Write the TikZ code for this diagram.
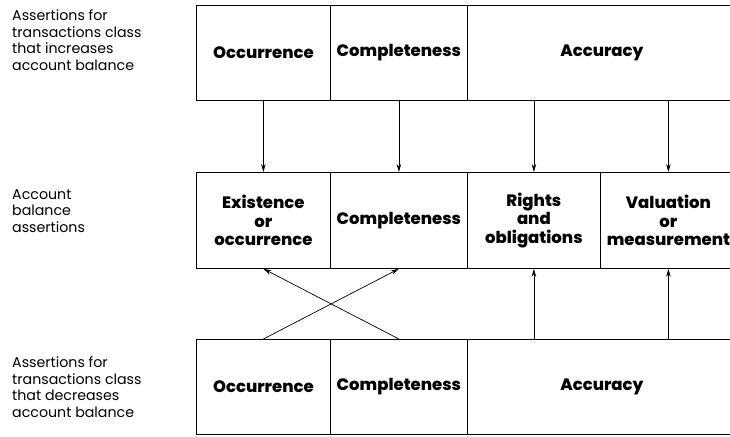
\documentclass[tikz,border=0pt]{standalone}
\usepackage{fontspec}
\setmainfont{Poppins}[BoldFont={Poppins ExtraBold}]
\usetikzlibrary{arrows.meta}
\begin{document}
\begin{tikzpicture}[x=1pt,y=-1pt,
  cell/.style={draw, line width=0.8pt, inner sep=0pt, anchor=north west,
    font=\bfseries\fontsize{16.5}{18.5}\selectfont, align=center},
  sidelabel/.style={anchor=west, inner sep=0pt, align=left,
    font=\fontsize{14.2}{16.7}\selectfont},
  link/.style={line width=0.7pt, -{Stealth[length=8pt,width=4.5pt]}}]
\useasboundingbox (0,0) rectangle (730,436);
\clip (0,0) rectangle (730,436);
% increasing transactions
\node[cell, minimum width=134pt, minimum height=95pt] (t1) at (196,5) {Occurrence};
\node[cell, minimum width=137pt, minimum height=95pt] (t2) at (330,5) {Completeness};
\node[cell, minimum width=269pt, minimum height=95pt] (t3) at (467,5) {Accuracy};
% account balance
\node[cell, minimum width=134pt, minimum height=96pt] (m1) at (196,172) {Existence\\or\\occurrence};
\node[cell, minimum width=137pt, minimum height=96pt] (m2) at (330,172) {Completeness};
\node[cell, minimum width=133pt, minimum height=96pt] (m3) at (467,172) {Rights\\and\\obligations};
\node[cell, minimum width=136pt, minimum height=96pt] (m4) at (600,172) {Valuation\\or\\measurement};
% decreasing transactions
\node[cell, minimum width=134pt, minimum height=95pt] (b1) at (196,339) {Occurrence};
\node[cell, minimum width=137pt, minimum height=95pt] (b2) at (330,339) {Completeness};
\node[cell, minimum width=269pt, minimum height=95pt] (b3) at (467,339) {Accuracy};
% row captions
\node[sidelabel] (lt) at (12,40) {Assertions for\\transactions class\\that increases\\account balance};
\node[sidelabel] (lm) at (12,211) {Account\\balance\\assertions};
\node[sidelabel] (lb) at (12,387) {Assertions for\\transactions class\\that decreases\\account balance};
% connectors
\draw[link] (t1.south) -- (m1.north);
\draw[link] (t2.south) -- (m2.north);
\draw[link] (m3.north |- t3.south) -- (m3.north);
\draw[link] (m4.north |- t3.south) -- (m4.north);
\draw[link] (b1.north) -- (m2.south);
\draw[link] (b2.north) -- (m1.south);
\draw[link] (m3.south |- b3.north) -- (m3.south);
\draw[link] (m4.south |- b3.north) -- (m4.south);
\end{tikzpicture}
\end{document}
